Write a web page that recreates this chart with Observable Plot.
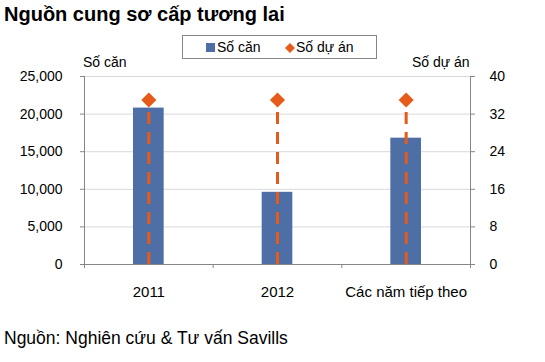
<!DOCTYPE html>
<html>
<head>
<meta charset="utf-8">
<script src="https://cdn.jsdelivr.net/npm/d3@7"></script>
<script src="https://cdn.jsdelivr.net/npm/@observablehq/plot@0.6"></script>
<style>
  body { margin: 0; background: #fff; }
  #wrap { position: relative; width: 545px; height: 362px; font-family: "Liberation Sans", Arial, sans-serif; overflow: hidden; }
  #wrap svg { position: absolute; left: 0; top: 0; }
  .abs { position: absolute; white-space: nowrap; color: #000; }
  #title { left: 4px; top: 3px; font-size: 20px; font-weight: bold; }
  #caption { left: 4px; top: 328px; font-size: 17.5px; }
  #legend { left: 182px; top: 35px; width: 193px; height: 22px; border: 1px solid #868686; font-size: 14px; }
  .lt { position: absolute; top: 3px; }
  .axt { font-size: 14px; }
</style>
</head>
<body>
<div id="wrap">
  <div id="plot"></div>
  <div id="title" class="abs">Nguồn cung sơ cấp tương lai</div>
  <div class="abs axt" style="left:83px;top:54px">Số căn</div>
  <div class="abs axt" style="left:412px;top:54px">Số dự án</div>
  <div id="legend" class="abs">
    <span style="position:absolute;left:23px;top:7px;width:9px;height:9px;background:#4E6FA5"></span>
    <span class="lt" style="left:34px">Số căn</span>
    <svg width="10" height="10" style="position:absolute;left:102px;top:7px"><path d="M5 0L10 5L5 10L0 5Z" fill="#E65A1A"/></svg>
    <span class="lt" style="left:113px">Số dự án</span>
  </div>
  <div id="caption" class="abs">Nguồn: Nghiên cứu &amp; Tư vấn Savills</div>
</div>
<script>
const categories = ["2011", "2012", "Các năm tiếp theo"];
const soCan = [20800, 9600, 16800];
const soDuAn = [35, 35, 35];
const leftTicks = [0, 5000, 10000, 15000, 20000, 25000];
const rightTicks = [0, 8, 16, 24, 32, 40];

const ratio = 25000 / 40;
const data = categories.map((c, i) => ({ c, i, can: soCan[i], duan: soDuAn[i], duanY: soDuAn[i] * ratio }));

const blue = "#4E6FA5", orange = "#E65A1A", axisGray = "#868686";
const rightVals = rightTicks.map(v => v * ratio);

const chart = Plot.plot({
  width: 545,
  height: 362,
  marginTop: 76,
  marginBottom: 98,
  marginLeft: 84,
  marginRight: 75,
  style: { fontFamily: "'Liberation Sans', Arial, sans-serif", fontSize: "14px", color: "#000", background: "transparent" },
  x: { type: "linear", domain: [0, categories.length] },
  y: { domain: [0, 25000] },
  marks: [
    Plot.ruleY(leftTicks.filter(d => d > 0), { stroke: "#D9D9D9", strokeWidth: 1 }),
    Plot.rectY(data, { x1: "i", x2: d => d.i + 1, y: "can", fill: blue, insetLeft: 49, insetRight: 49 }),
    Plot.ruleX(data, { x: d => d.i + 0.5, y1: 0, y2: "duanY", stroke: orange, strokeWidth: 3, strokeDasharray: "12,8" }),
    Plot.dot(data, { x: d => d.i + 0.5, y: "duanY", symbol: "diamond2", r: 6.8, fill: orange, stroke: "none" }),
    // left axis: tick marks, then labels
    Plot.axisY({ ticks: leftTicks, tickFormat: () => "", tickSize: 4, stroke: axisGray, label: null }),
    Plot.axisY({ ticks: leftTicks, tickFormat: d3.format(","), tickSize: 0, tickPadding: 3, dx: -19, label: null, fontSize: 14 }),
    // right axis
    Plot.axisY({ anchor: "right", ticks: rightVals, tickFormat: () => "", tickSize: 4, stroke: axisGray, label: null }),
    Plot.axisY({ anchor: "right", ticks: rightVals, tickFormat: d => String(Math.round(d / ratio)), tickSize: 0, tickPadding: 3, dx: 16, label: null, textAnchor: "start", fontSize: 14 }),
    Plot.ruleX([0], { stroke: axisGray }),
    Plot.ruleX([categories.length], { stroke: axisGray }),
    Plot.ruleY([0], { stroke: axisGray }),
    Plot.axisX({ ticks: d3.range(categories.length + 1), tickFormat: () => "", tickSize: 4, stroke: axisGray, label: null }),
    Plot.text(data, { x: d => d.i + 0.5, y: 0, text: "c", frameAnchor: "bottom", dy: 32, fontSize: 15, fill: "#000" })
  ]
});
document.getElementById("plot").appendChild(chart);
</script>
</body>
</html>
